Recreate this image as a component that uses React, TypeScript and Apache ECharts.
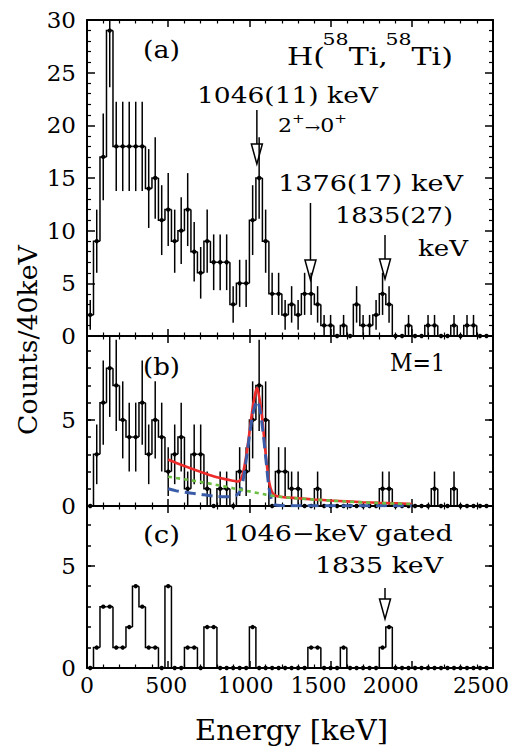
import React, { useEffect, useRef } from 'react';
import * as echarts from 'echarts';

const FONT = '"DejaVu Serif", serif';
const BIN_WIDTH = 40; // keV per bin
const X_MAX = 2500;
const Y_MAX_A = 30;
const Y_MAX_B = 9.87;
const Y_MAX_C = 7.92;

// counts per 40 keV bin, bins starting at 0 keV
const countsA = [2, 9, 17, 29, 18, 18, 18, 18, 18, 14, 15, 11, 12, 9, 10, 12, 8, 6, 9, 7, 7, 7, 3, 5, 5, 11, 15, 9, 4, 4, 2, 3, 2, 4, 4, 3, 1, 1, 0, 1, 0, 3, 1, 1, 2, 4, 3, 0, 0, 1, 0, 0, 1, 1, 0, 0, 1, 0, 1, 1, 0, 0];
const countsB = [0, 3, 6, 8, 7, 5, 4, 4, 6, 3, 5, 4, 2, 3, 4, 1, 3, 3, 1, 0, 1, 1, 0, 2, 2, 5, 7, 5, 0, 2, 2, 1, 1, 0, 0, 1, 0, 0, 0, 0, 0, 0, 0, 0, 0, 1, 1, 0, 0, 0, 0, 0, 0, 1, 0, 0, 1, 0, 0, 0, 0, 0];
const countsC = [0, 1, 3, 3, 1, 1, 2, 4, 3, 1, 1, 0, 4, 0, 0, 1, 1, 0, 2, 2, 0, 0, 0, 0, 0, 2, 0, 0, 0, 0, 0, 0, 0, 0, 1, 1, 0, 0, 0, 1, 0, 0, 0, 0, 0, 1, 2, 0, 0, 0, 0, 0, 0, 0, 0, 0, 0, 0, 0, 0, 0, 0];

// fit curves in panel (b): [keV, counts]
const totalFit = [[500, 2.7], [550, 2.5], [600, 2.32], [650, 2.15], [700, 1.98], [750, 1.82], [800, 1.67], [850, 1.56], [900, 1.47], [930, 1.42], [950, 1.6], [965, 2.1], [980, 2.9], [995, 3.9], [1010, 5.0], [1025, 6.0], [1040, 6.7], [1047, 6.85], [1055, 6.6], [1068, 5.9], [1080, 5.0], [1092, 3.8], [1105, 2.6], [1118, 1.6], [1130, 1.05], [1145, 0.72], [1165, 0.58], [1200, 0.52], [1300, 0.45], [1400, 0.38], [1500, 0.32], [1600, 0.27], [1700, 0.22], [1800, 0.18], [1900, 0.15], [2000, 0.12]];
const peakFit = [[500, 1.0], [550, 0.88], [600, 0.8], [650, 0.74], [700, 0.68], [750, 0.61], [800, 0.56], [850, 0.53], [890, 0.54], [920, 0.62], [945, 0.9], [965, 1.7], [985, 3.0], [1005, 4.4], [1025, 5.5], [1048, 6.1], [1065, 5.6], [1085, 4.2], [1105, 2.4], [1120, 1.1], [1135, 0.4], [1150, 0.12], [1170, 0.04], [1250, 0.02], [2000, 0.02]];
const bgFit = [[500, 1.7], [600, 1.55], [700, 1.4], [800, 1.22], [900, 1.03], [1000, 0.85], [1100, 0.66], [1200, 0.52], [1300, 0.44], [1400, 0.37], [1500, 0.31], [1600, 0.26], [1700, 0.21], [1800, 0.17], [1900, 0.14], [2000, 0.11]];

// arrows: [keV, line top (counts), tip (counts)]
const arrowsA = [[1046, 21.46, 16.33], [1376, 12.63, 5.32], [1835, 9.59, 5.41]];
const arrowsC = [[1835, 3.91, 2.4]];

const yLabelsA = [0, 5, 10, 15, 20, 25, 30];
const yLabelsB = [0, 5];
const yLabelsC = [0, 5];
const xLabels = [0, 500, 1000, 1500, 2000, 2500];

// styling
const X_LABEL_SHIFT: Record<number, number> = { 0: 0, 500: 2, 1000: 4, 1500: 12, 2000: 21, 2500: 12 };
const ARROW_LEN = 20;
const ARROW_HW = 5.5;

let ctx: CanvasRenderingContext2D | null = null;
function textWidth(t: string, size: number) {
  if (!ctx) ctx = document.createElement('canvas').getContext('2d');
  ctx!.font = `${size}px "DejaVu Serif"`;
  return ctx!.measureText(t).width;
}

type Seg = { t: string; size: number; cy: number; dx?: number };
function textGroup(segs: Seg[], left: number, width: number) {
  let off = 0;
  const children: any[] = [];
  for (const s of segs) {
    off += s.dx || 0;
    children.push({
      type: 'text', x: off, y: s.cy,
      style: { text: s.t, fontSize: s.size, fontFamily: FONT, fill: '#000', align: 'left', verticalAlign: 'middle', textAlign: 'left', textVerticalAlign: 'middle' },
    });
    off += textWidth(s.t, s.size);
  }
  return { type: 'group', x: left, y: 0, scaleX: width / off, children };
}

function histSeries(counts: number[], xi: number, yi: number, errors: boolean, yMax: number) {
  const data = counts.map((v, i) => [BIN_WIDTH * (i + 0.5), v, i === 0 ? 0 : counts[i - 1], errors ? Math.sqrt(v) : 0]);
  return {
    type: 'custom', xAxisIndex: xi, yAxisIndex: yi, data, silent: true, z: 3,
    renderItem: (params: any, api: any) => {
      const c = api.value(0), v = api.value(1), p = api.value(2), e = api.value(3);
      const lo = c - BIN_WIDTH / 2, hi = c + BIN_WIDTH / 2;
      const a = api.coord([lo, p]), b = api.coord([lo, v]), d = api.coord([hi, v]);
      const children: any[] = [
        { type: 'polyline', shape: { points: [a, b, d] }, style: { stroke: '#000', lineWidth: 1.5, fill: null } },
      ];
      if (e > 0) {
        const t = api.coord([c, Math.min(v + e, yMax)]);
        const bt = api.coord([c, Math.max(v - e, 0)]);
        children.push({ type: 'line', shape: { x1: t[0], y1: t[1], x2: bt[0], y2: bt[1] }, style: { stroke: '#000', lineWidth: 1.5 } });
      }
      const m = api.coord([c, v]);
      children.push({ type: 'circle', shape: { cx: m[0], cy: m[1], r: 2.2 }, style: { fill: '#000' } });
      return { type: 'group', children };
    },
  };
}

function arrowSeries(arrows: number[][], xi: number, yi: number) {
  return {
    type: 'custom', xAxisIndex: xi, yAxisIndex: yi, data: arrows, silent: true, z: 4,
    renderItem: (params: any, api: any) => {
      const x = api.value(0), top = api.value(1), tip = api.value(2);
      const pt = api.coord([x, top]);
      const pTip = api.coord([x, tip]);
      const baseY = pTip[1] - ARROW_LEN;
      return {
        type: 'group', children: [
          { type: 'line', shape: { x1: pt[0], y1: pt[1], x2: pt[0], y2: baseY }, style: { stroke: '#000', lineWidth: 1.5 } },
          { type: 'polygon', shape: { points: [[pTip[0] - ARROW_HW, baseY], [pTip[0] + ARROW_HW, baseY], [pTip[0], pTip[1]]] }, style: { fill: null, stroke: '#000', lineWidth: 1.5 } },
        ],
      };
    },
  };
}

function xAxis(gridIndex: number, position: string, labels: boolean) {
  const rich: any = {};
  xLabels.forEach((v) => {
    rich['s' + v] = { fontSize: 22, fontFamily: FONT, color: '#000', padding: [0, 2 * X_LABEL_SHIFT[v], 0, 0] };
  });
  return {
    type: 'value', gridIndex, position, min: 0, max: X_MAX, interval: 500,
    axisLine: { show: true, onZero: false, lineStyle: { color: '#000', width: 2 } },
    axisTick: { show: true, inside: true, length: 7, lineStyle: { color: '#000', width: 1.5 } },
    minorTick: { show: true, splitNumber: 5, length: 3.5, lineStyle: { color: '#000', width: 1.2 } },
    splitLine: { show: false },
    axisLabel: labels
      ? { show: true, margin: 6, fontSize: 22, fontFamily: FONT, color: '#000', formatter: (v: number) => (xLabels.includes(v) ? `{s${v}|${v}}` : ''), rich }
      : { show: false },
  };
}

function yAxis(gridIndex: number, position: string, max: number, interval: number, tickLen: number, labels: number[] | null, line: boolean, minor: boolean) {
  return {
    type: 'value', gridIndex, position, min: 0, max, interval,
    axisLine: { show: line, onZero: false, lineStyle: { color: '#000', width: 2 } },
    axisTick: { show: true, inside: true, length: tickLen, lineStyle: { color: '#000', width: 1.5 } },
    minorTick: { show: minor, splitNumber: 5, length: 4, lineStyle: { color: '#000', width: 1.2 } },
    splitLine: { show: false },
    axisLabel: labels
      ? { show: true, margin: 11, fontSize: 23, fontFamily: FONT, color: '#000', formatter: (v: number) => (labels.includes(v) ? String(v) : '') }
      : { show: false },
  };
}

export default function App() {
  const ref = useRef<HTMLDivElement>(null);
  useEffect(() => {
    if (!ref.current) return;
    const chart = echarts.init(ref.current, undefined, { renderer: 'svg' });
    const grids = [
      { left: 87, width: 406, top: 20, height: 316 },
      { left: 87, width: 406, top: 336, height: 170 },
      { left: 87, width: 406, top: 506, height: 162 },
    ];
    const texts = [
      textGroup([{ t: '(a)', size: 25, cy: 49 }], 143, 37),
      textGroup([
        { t: 'H(', size: 25, cy: 56 }, { t: '58', size: 17, cy: 39, dx: -2 }, { t: 'Ti,', size: 25, cy: 56 },
        { t: '58', size: 17, cy: 39, dx: -2 }, { t: 'Ti)', size: 25, cy: 56 },
      ], 287, 166),
      textGroup([{ t: '1046(11) keV', size: 22, cy: 95.5 }], 197, 181),
      textGroup([
        { t: '2', size: 19, cy: 125.5 }, { t: '+', size: 13, cy: 118 }, { t: '→', size: 16, cy: 127 },
        { t: '0', size: 19, cy: 125.5 }, { t: '+', size: 13, cy: 118 },
      ], 278, 69),
      textGroup([{ t: '1376(17) keV', size: 22, cy: 183 }], 278, 185),
      textGroup([{ t: '1835(27)', size: 22, cy: 216 }], 335, 118),
      textGroup([{ t: 'keV', size: 22, cy: 249 }], 418, 50),
      textGroup([{ t: '(b)', size: 25, cy: 366 }], 143, 37),
      textGroup([{ t: 'M=1', size: 25, cy: 362.5 }], 390, 55),
      textGroup([{ t: '(c)', size: 25, cy: 534 }], 143, 37),
      textGroup([{ t: '1046−keV gated', size: 22, cy: 533.5 }], 223, 230),
      textGroup([{ t: '1835 keV', size: 22, cy: 565 }], 315, 128),
      textGroup([{ t: 'Energy [keV]', size: 28, cy: 731 }], 195, 193),
      {
        type: 'text', x: 28, y: 340, rotation: Math.PI / 2,
        scaleX: 190 / textWidth('Counts/40keV', 26),
        style: { text: 'Counts/40keV', fontSize: 26, fontFamily: FONT, fill: '#000', align: 'center', verticalAlign: 'middle', textAlign: 'center', textVerticalAlign: 'middle' },
      },
    ];
    const lineS = (data: number[][], color: string, type: any, width: number, z: number) => ({
      type: 'line', xAxisIndex: 2, yAxisIndex: 2, data, showSymbol: false, symbol: 'none', smooth: 0.3, silent: true, z,
      lineStyle: { color, width, type, cap: 'butt' },
    });
    chart.setOption({
      animation: false,
      backgroundColor: '#fff',
      grid: grids,
      xAxis: [
        xAxis(0, 'bottom', false), xAxis(0, 'top', false),
        xAxis(1, 'bottom', false), xAxis(1, 'top', false),
        xAxis(2, 'bottom', true), xAxis(2, 'top', false),
      ],
      yAxis: [
        yAxis(0, 'left', Y_MAX_A, 5, 8, yLabelsA, true, true),
        yAxis(0, 'right', Y_MAX_A, 5, 8, null, true, true),
        yAxis(1, 'left', Y_MAX_B, 5, 8, yLabelsB, true, false),
        yAxis(1, 'left', Y_MAX_B, 1, 4, null, false, false),
        yAxis(1, 'right', Y_MAX_B, 5, 8, null, true, false),
        yAxis(1, 'right', Y_MAX_B, 1, 4, null, false, false),
        yAxis(2, 'left', Y_MAX_C, 5, 8, yLabelsC, true, false),
        yAxis(2, 'left', Y_MAX_C, 1, 4, null, false, false),
        yAxis(2, 'right', Y_MAX_C, 5, 8, null, true, false),
        yAxis(2, 'right', Y_MAX_C, 1, 4, null, false, false),
      ],
      series: [
        histSeries(countsA, 0, 0, true, Y_MAX_A),
        histSeries(countsB, 2, 2, true, Y_MAX_B),
        histSeries(countsC, 4, 6, false, Y_MAX_C),
        lineS(totalFit, '#ee2b2b', 'solid', 2.6, 5),
        lineS(peakFit, '#3a5ca8', [11, 6], 3, 6),
        lineS(bgFit, '#6cbf43', [4, 4], 2.6, 7),
        arrowSeries(arrowsA, 0, 0),
        arrowSeries(arrowsC, 4, 6),
      ],
      graphic: texts,
    });
    return () => chart.dispose();
  }, []);
  return <div ref={ref} style={{ position: 'fixed', left: 0, top: 0, width: 532, height: 748 }} />;
}
